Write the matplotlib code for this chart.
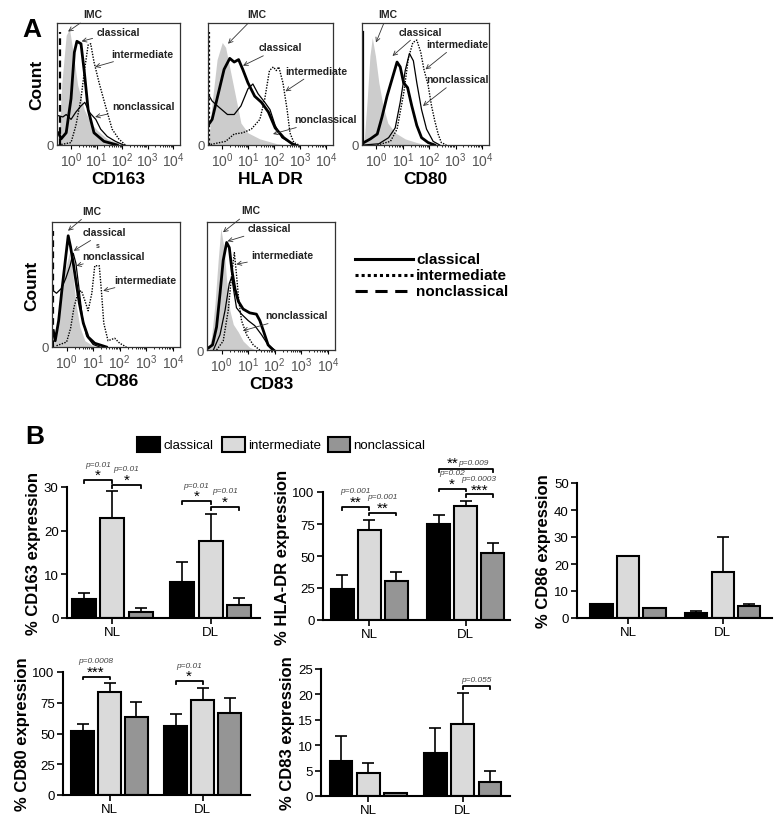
import numpy as np
import matplotlib
matplotlib.use("Agg")
import matplotlib.pyplot as plt
from matplotlib.lines import Line2D
from matplotlib.patches import Rectangle

plt.rcParams["font.family"] = ["Liberation Sans", "DejaVu Sans"]
plt.rcParams["mathtext.default"] = "regular"

W, H = 780, 829

# ---------- panel A: histogram traces (x in log decades, y as fraction of max) ----------
cd163_imc_x = [-0.49, -0.36, -0.19, -0.06, 0.06, 0.26, 0.52, 0.77, 1.03, 1.42, 1.94, 2.45]
cd163_imc_y = [0, 0.51, 0.90, 0.95, 0.79, 0.49, 0.29, 0.18, 0.12, 0.05, 0.01, 0]
cd163_cla_x = [-0.49, -0.39, -0.19, 0.0, 0.13, 0.23, 0.39, 0.52, 0.67, 0.90, 1.29, 1.81]
cd163_cla_y = [0.10, 0.05, 0.10, 0.38, 0.76, 0.85, 0.83, 0.60, 0.29, 0.10, 0.03, 0]
cd163_non_x = [-0.49, -0.32, -0.19, 0.0, 0.19, 0.39, 0.54, 0.71, 0.97, 1.16, 1.42, 1.74, 2.06]
cd163_non_y = [0.24, 0.23, 0.25, 0.21, 0.27, 0.32, 0.35, 0.27, 0.21, 0.13, 0.07, 0.03, 0]
cd163_int_x = [-0.49, 0.0, 0.19, 0.39, 0.52, 0.67, 0.77, 0.90, 1.10, 1.35, 1.61, 1.87, 2.13]
cd163_int_y = [0, 0.02, 0.16, 0.38, 0.60, 0.82, 0.83, 0.68, 0.51, 0.32, 0.13, 0.05, 0]

hla_imc_x = [-0.53, -0.39, -0.2, 0.0, 0.13, 0.33, 0.53, 0.72, 0.99, 1.45, 2.11, 2.5]
hla_imc_y = [0, 0.35, 0.70, 0.84, 0.80, 0.59, 0.38, 0.18, 0.10, 0.05, 0.01, 0]
hla_cla_x = [-0.55, -0.39, -0.2, 0.07, 0.29, 0.46, 0.63, 0.79, 0.99, 1.25, 1.51, 1.78, 2.04, 2.37, 2.76]
hla_cla_y = [0.16, 0.21, 0.38, 0.62, 0.71, 0.68, 0.70, 0.62, 0.51, 0.40, 0.35, 0.27, 0.14, 0.06, 0]
hla_non_x = [-0.55, -0.39, -0.13, 0.2, 0.46, 0.72, 0.99, 1.18, 1.38, 1.64, 1.84, 2.04, 2.3, 2.63, 2.89]
hla_non_y = [0.42, 0.36, 0.31, 0.25, 0.25, 0.32, 0.46, 0.50, 0.42, 0.35, 0.29, 0.16, 0.06, 0.02, 0]
hla_int_x = [-0.55, 0.13, 0.46, 0.79, 1.12, 1.45, 1.64, 1.82, 1.97, 2.08, 2.18, 2.34, 2.5, 2.61, 2.76, 2.96]
hla_int_y = [0, 0.03, 0.09, 0.10, 0.13, 0.21, 0.38, 0.61, 0.64, 0.61, 0.64, 0.51, 0.29, 0.10, 0.02, 0]

cd80_imc_x = [-0.48, -0.35, -0.25, -0.16, -0.04, 0.09, 0.25, 0.43, 0.71, 1.09, 1.53, 1.9]
cd80_imc_y = [0, 0.38, 0.73, 0.88, 0.73, 0.51, 0.32, 0.18, 0.10, 0.05, 0.02, 0]
cd80_cla_x = [-0.48, -0.23, 0.03, 0.21, 0.4, 0.59, 0.78, 0.9, 1.03, 1.18, 1.34, 1.53, 1.71, 1.96, 2.21]
cd80_cla_y = [0.02, 0.05, 0.09, 0.23, 0.40, 0.54, 0.68, 0.64, 0.51, 0.47, 0.32, 0.16, 0.06, 0.02, 0]
cd80_non_x = [-0.48, 0.09, 0.46, 0.71, 0.9, 1.09, 1.25, 1.4, 1.53, 1.71, 1.9, 2.15, 2.4]
cd80_non_y = [0, 0.01, 0.06, 0.14, 0.35, 0.61, 0.75, 0.69, 0.51, 0.29, 0.13, 0.03, 0]
cd80_int_x = [0.03, 0.53, 0.78, 1.03, 1.21, 1.38, 1.53, 1.68, 1.8, 1.96, 2.09, 2.21, 2.34, 2.46, 2.65]
cd80_int_y = [0, 0.03, 0.13, 0.42, 0.71, 0.84, 0.86, 0.76, 0.62, 0.49, 0.32, 0.20, 0.09, 0.02, 0]

cd86_imc_x = [-0.5, -0.35, -0.19, -0.03, 0.1, 0.23, 0.35, 0.5, 0.69, 1.0, 1.25]
cd86_imc_y = [0, 0.21, 0.43, 0.64, 0.75, 0.59, 0.35, 0.16, 0.05, 0.01, 0]
cd86_cla_x = [-0.5, -0.43, -0.3, -0.18, -0.05, 0.06, 0.15, 0.25, 0.35, 0.48, 0.63, 0.81, 1.06, 1.5]
cd86_cla_y = [0.13, 0.05, 0.21, 0.45, 0.69, 0.89, 0.80, 0.67, 0.53, 0.35, 0.19, 0.08, 0.03, 0]
cd86_non_x = [-0.5, -0.38, -0.19, -0.03, 0.13, 0.25, 0.35, 0.46, 0.59, 0.75, 1.0, 1.25]
cd86_non_y = [0.45, 0.43, 0.47, 0.55, 0.65, 0.75, 0.67, 0.48, 0.24, 0.09, 0.02, 0]
cd86_int_x = [-0.38, 0.0, 0.15, 0.28, 0.44, 0.56, 0.69, 0.81, 0.95, 1.06, 1.23, 1.31, 1.4, 1.56, 1.81, 2.0, 2.25]
cd86_int_y = [0.01, 0.04, 0.15, 0.32, 0.44, 0.45, 0.37, 0.29, 0.43, 0.65, 0.65, 0.45, 0.19, 0.05, 0.07, 0.03, 0]

cd83_imc_x = [-0.5, -0.38, -0.25, -0.13, -0.03, 0.09, 0.19, 0.31, 0.44, 0.63, 0.81, 1.06, 1.31]
cd83_imc_y = [0, 0.10, 0.36, 0.70, 0.95, 0.80, 0.54, 0.31, 0.20, 0.14, 0.07, 0.02, 0]
cd83_cla_x = [-0.54, -0.34, -0.19, -0.06, 0.06, 0.19, 0.29, 0.39, 0.5, 0.63, 0.81, 1.06, 1.31, 1.44, 1.59, 1.75, 1.94]
cd83_cla_y = [0.01, 0.04, 0.18, 0.44, 0.70, 0.84, 0.80, 0.62, 0.48, 0.38, 0.32, 0.29, 0.28, 0.23, 0.14, 0.04, 0]
cd83_non_x = [-0.31, -0.06, 0.13, 0.29, 0.38, 0.46, 0.56, 0.75, 1.0, 1.25, 1.5, 1.75, 2.0]
cd83_non_y = [0, 0.12, 0.31, 0.52, 0.57, 0.46, 0.33, 0.28, 0.23, 0.19, 0.12, 0.04, 0]
cd83_int_x = [-0.19, 0.06, 0.25, 0.38, 0.48, 0.56, 0.65, 0.75, 0.94, 1.19, 1.44]
cd83_int_y = [0, 0.07, 0.31, 0.59, 0.76, 0.59, 0.38, 0.23, 0.12, 0.04, 0]

hist_markers = ["CD163", "HLA DR", "CD80", "CD86", "CD83"]
subset_names = ["classical", "intermediate", "nonclassical"]

# ---------- panel B: % expression (mean, upper error) ----------
groups = ["NL", "DL"]
cd163_mean = [[4.3, 8.2], [22.8, 17.6], [1.4, 2.9]]
cd163_err = [[1.5, 4.7], [6.2, 6.3], [1.0, 1.7]]
hladr_mean = [[24.0, 75.3], [70.3, 89.3], [30.5, 52.1]]
hladr_err = [[11.4, 6.5], [7.6, 3.7], [7.3, 7.8]]
cd86_mean = [[5.1, 2.0], [23.0, 17.0], [3.6, 4.3]]
cd86_err = [[np.nan, 0.5], [np.nan, 13.1], [np.nan, 1.0]]
cd80_mean = [[52.2, 56.0], [84.1, 77.3], [63.8, 67.0]]
cd80_err = [[5.6, 10.2], [6.7, 9.5], [12.1, 11.9]]
cd83_mean = [[6.8, 8.55], [4.5, 14.1], [0.5, 2.8]]
cd83_err = [[5.0, 4.85], [1.9, 6.2], [0.1, 2.1]]

# significance: (group, bar a, bar b, bracket height, stars, p text)
cd163_sig = [(0, 0, 1, 31.6, "*", "p=0.01"), (0, 1, 2, 30.5, "*", "p=0.01"),
             (1, 0, 1, 26.8, "*", "p=0.01"), (1, 1, 2, 25.5, "*", "p=0.01")]
hladr_sig = [(0, 0, 1, 88.5, "**", "p=0.001"), (0, 1, 2, 83.9, "**", "p=0.001"),
             (1, 0, 1, 102.6, "*", "p=0.02"), (1, 1, 2, 98.2, "***", "p=0.0003"),
             (1, 0, 2, 117.7, "**", "p=0.009")]
cd80_sig = [(0, 0, 1, 96.2, "***", "p=0.0008"), (1, 0, 1, 92.7, "*", "p=0.01")]
cd83_sig = [(1, 1, 2, 21.7, "", "p=0.055")]

bar_colors = ["black", "#dadada", "#959595"]

fig = plt.figure(figsize=(W / 100, H / 100), dpi=100)


def px_rect(l, t, r, b):
    return [l / W, 1 - b / H, (r - l) / W, (b - t) / H]


def draw_hist(ax, imc, cla, inter, non, edge, edge_ls, label, notes, count):
    ax.fill_between(imc[0], imc[1], color="#cccccc", lw=0)
    ax.plot(non[0], non[1], color="black", lw=0.9)
    ax.plot(inter[0], inter[1], color="black", lw=1.0, ls=(0, (1, 1)))
    ax.plot(cla[0], cla[1], color="black", lw=2.0)
    if edge is not None:
        ax.plot([edge, edge], [0, 0.93], color="black", lw=1.6, ls=edge_ls)
    ax.set_xlim(-0.55, 4.27)
    ax.set_ylim(0, 1)
    ax.set_xticks(range(5), [rf"$10^{{{k}}}$" for k in range(5)])
    ax.set_xticks([k + np.log10(m) for k in range(4) for m in range(2, 10)], minor=True)
    ax.set_yticks([0], ["0"])
    ax.tick_params(axis="x", which="major", length=3, width=0.8, labelsize=10,
                   labelcolor="#555555", pad=1)
    ax.tick_params(axis="x", which="minor", length=1.5, width=0.6)
    ax.tick_params(axis="y", length=0, labelsize=9.5, labelcolor="#555555", pad=2)
    for s in ax.spines.values():
        s.set_linewidth(0.9)
        s.set_color("#333333")
    ax.set_xlabel(label, fontsize=12.5, fontweight="bold", labelpad=1)
    if count:
        ax.set_ylabel("Count", fontsize=12.5, fontweight="bold", labelpad=2)
    for txt, tip, pos in notes:
        if tip is None:
            ax.text(pos[0], pos[1], txt, transform=ax.transAxes, fontsize=5,
                    fontweight="bold", ha="center", va="center", color="#333333")
            continue
        ax.annotate(txt, xy=tip, xycoords="axes fraction", xytext=pos,
                    textcoords="axes fraction", ha="center", va="center",
                    fontsize=7.5, fontweight="bold", color="#222222",
                    annotation_clip=False,
                    arrowprops=dict(arrowstyle="->", lw=0.6, color="#333333",
                                    shrinkA=1, shrinkB=0))


ax = fig.add_axes(px_rect(57, 24, 180, 146))
draw_hist(ax, (cd163_imc_x, cd163_imc_y), (cd163_cla_x, cd163_cla_y),
          (cd163_int_x, cd163_int_y), (cd163_non_x, cd163_non_y), -0.45, (0, (3, 2)),
          hist_markers[0],
          [("IMC", (0.09, 0.93), (0.29, 1.07)), ("classical", (0.20, 0.85), (0.50, 0.93)),
           ("intermediate", (0.31, 0.64), (0.69, 0.75)),
           ("nonclassical", (0.31, 0.23), (0.70, 0.32))], True)

ax = fig.add_axes(px_rect(208, 24, 333, 146))
draw_hist(ax, (hla_imc_x, hla_imc_y), (hla_cla_x, hla_cla_y),
          (hla_int_x, hla_int_y), (hla_non_x, hla_non_y), -0.52, (0, (1, 1)),
          hist_markers[1],
          [("IMC", (0.16, 0.83), (0.39, 1.07)), ("classical", (0.28, 0.65), (0.58, 0.80)),
           ("intermediate", (0.62, 0.44), (0.87, 0.61)),
           ("nonclassical", (0.52, 0.09), (0.94, 0.21))], False)

ax = fig.add_axes(px_rect(362, 24, 489, 146))
draw_hist(ax, (cd80_imc_x, cd80_imc_y), (cd80_cla_x, cd80_cla_y),
          (cd80_int_x, cd80_int_y), (cd80_non_x, cd80_non_y), -0.51, "-",
          hist_markers[2],
          [("IMC", (0.11, 0.84), (0.20, 1.07)), ("classical", (0.24, 0.73), (0.46, 0.93)),
           ("intermediate", (0.50, 0.62), (0.75, 0.83)),
           ("nonclassical", (0.48, 0.32), (0.75, 0.54))], False)

ax = fig.add_axes(px_rect(52, 223, 180, 348))
draw_hist(ax, (cd86_imc_x, cd86_imc_y), (cd86_cla_x, cd86_cla_y),
          (cd86_int_x, cd86_int_y), (cd86_non_x, cd86_non_y), -0.51, (0, (3, 2)),
          hist_markers[3],
          [("IMC", (0.125, 0.93), (0.31, 1.09)), ("classical", (0.17, 0.77), (0.41, 0.92)),
           ("s", None, (0.36, 0.81)),
           ("nonclassical", (0.19, 0.65), (0.48, 0.73)),
           ("intermediate", (0.40, 0.45), (0.73, 0.54))], True)

ax = fig.add_axes(px_rect(207, 223, 335, 351))
draw_hist(ax, (cd83_imc_x, cd83_imc_y), (cd83_cla_x, cd83_cla_y),
          (cd83_int_x, cd83_int_y), (cd83_non_x, cd83_non_y), None, "-",
          hist_markers[4],
          [("IMC", (0.125, 0.92), (0.34, 1.09)), ("classical", (0.16, 0.85), (0.49, 0.95)),
           ("intermediate", (0.23, 0.67), (0.59, 0.74)),
           ("nonclassical", (0.28, 0.15), (0.70, 0.27))], False)

# legend for panel A
for i, ls in enumerate(["-", (0, (1, 1)), (0, (4, 2.5))]):
    y = 1 - (260 + 16 * i) / H
    fig.add_artist(Line2D([355 / W, 413 / W], [y, y], color="black", lw=2.2, ls=ls,
                          transform=fig.transFigure))
    fig.text(416 / W, y, subset_names[i], fontsize=11, fontweight="bold",
             ha="left", va="center")

fig.text(32 / W, 1 - 30 / H, "A", fontsize=19, fontweight="bold", ha="center", va="center")
fig.text(35 / W, 1 - 437 / H, "B", fontsize=19, fontweight="bold", ha="center", va="center")

# legend for panel B
for (l, r), c, tx in zip([(137, 160), (222, 245), (328, 350)], bar_colors, subset_names):
    fig.add_artist(Rectangle((l / W, 1 - 453 / H), (r - l) / W, 15 / H, facecolor=c,
                             edgecolor="black", lw=1.5, transform=fig.transFigure))
    fig.text((r + 3) / W, 1 - 446 / H, tx, fontsize=9.5, ha="left", va="center")


def draw_bars(ax, means, errs, top, ticks, label, xlim, sig, off=0.29, width=0.245):
    x = np.arange(2)
    offs = [-off, 0, off]
    for k in range(3):
        xs = x + offs[k]
        m = np.array(means[k], dtype=float)
        e = np.array(errs[k], dtype=float)
        ok = ~np.isnan(e)
        if ok.any():
            ax.errorbar(xs[ok], m[ok], yerr=[np.zeros(ok.sum()), e[ok]], fmt="none",
                        ecolor="black", elinewidth=1.2, capsize=4, capthick=1.2, zorder=1)
        ax.bar(xs, m, width=width, color=bar_colors[k], edgecolor="black",
               linewidth=1.5, zorder=2)
    ax.set_xlim(*xlim)
    ax.set_ylim(0, top)
    ax.set_xticks(x, groups)
    ax.set_yticks(ticks)
    ax.tick_params(axis="both", labelsize=9.5, length=4, width=1.2, pad=2)
    for s in ["top", "right"]:
        ax.spines[s].set_visible(False)
    for s in ["left", "bottom"]:
        ax.spines[s].set_linewidth(1.5)
    ax.set_ylabel(label, fontsize=12, fontweight="bold", labelpad=2)
    h = 0.022 * top
    for g, a, b, y, stars, ptxt in sig:
        x1, x2 = g + offs[a], g + offs[b]
        ax.plot([x1, x1, x2, x2], [y - h, y, y, y - h], color="black", lw=1.3,
                clip_on=False)
        xm = (x1 + x2) / 2
        if a == 0 and b == 2:
            ax.annotate(stars, (xm - 0.14, y), xytext=(0, 4.5), textcoords="offset points",
                        ha="center", va="center", fontsize=11, annotation_clip=False)
            ax.annotate(ptxt, (xm + 0.08, y), xytext=(0, 5), textcoords="offset points",
                        ha="center", va="center", fontsize=6, style="italic",
                        color="#444444", annotation_clip=False)
        elif stars:
            ax.annotate(stars, (xm, y), xytext=(0, 3.5), textcoords="offset points",
                        ha="center", va="center", fontsize=11, annotation_clip=False)
            ax.annotate(ptxt, (xm, y), xytext=(0, 11.5), textcoords="offset points",
                        ha="center", va="center", fontsize=6, style="italic",
                        color="#444444", annotation_clip=False)
        else:
            ax.annotate(ptxt, (xm, y), xytext=(0, 4.5), textcoords="offset points",
                        ha="center", va="center", fontsize=6, style="italic",
                        color="#444444", annotation_clip=False)


ax = fig.add_axes(px_rect(67, 488, 260, 619))
draw_bars(ax, cd163_mean, cd163_err, 30, [0, 10, 20, 30], "% CD163 expression",
          (-0.46, 1.5), cd163_sig)

ax = fig.add_axes(px_rect(323, 493, 510, 621))
draw_bars(ax, hladr_mean, hladr_err, 100, [0, 25, 50, 75, 100], "% HLA-DR expression",
          (-0.48, 1.46), hladr_sig, off=0.28, width=0.235)

ax = fig.add_axes(px_rect(577, 484, 772, 619))
draw_bars(ax, cd86_mean, cd86_err, 50, [0, 10, 20, 30, 40, 50], "% CD86 expression",
          (-0.54, 1.52), [], off=0.28, width=0.235)

ax = fig.add_axes(px_rect(63, 673, 250, 796))
draw_bars(ax, cd80_mean, cd80_err, 100, [0, 25, 50, 75, 100], "% CD80 expression",
          (-0.5, 1.51), cd80_sig, off=0.29, width=0.24)

ax = fig.add_axes(px_rect(321, 670, 510, 797))
draw_bars(ax, cd83_mean, cd83_err, 25, [0, 5, 10, 15, 20, 25], "% CD83 expression",
          (-0.5, 1.5), cd83_sig, off=0.29, width=0.24)

fig.savefig("out.png", dpi=100)
